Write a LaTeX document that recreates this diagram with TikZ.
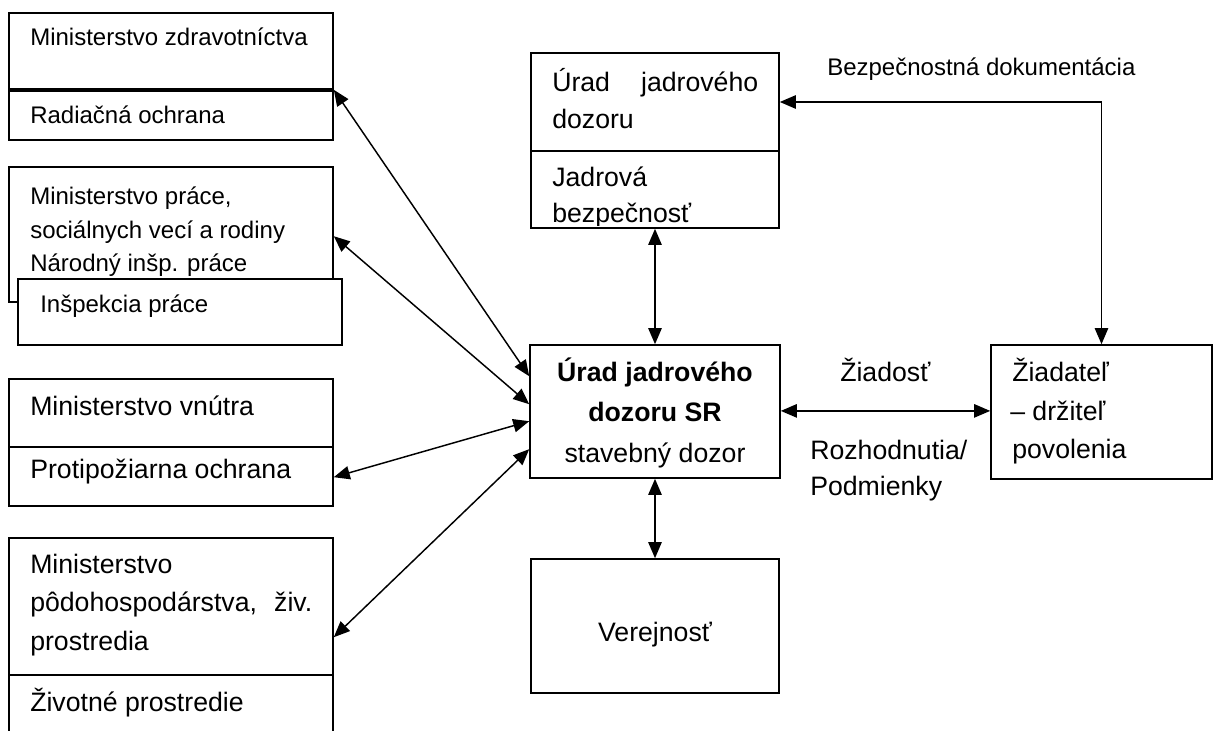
\documentclass[tikz,border=0pt]{standalone}
\usepackage{fontspec}
\setmainfont{Liberation Sans}
\usetikzlibrary{arrows.meta,calc}
\newcommand{\rbox}[5]{\node[box,minimum width={(#4-#2)*0.75pt},minimum height={(#5-#3)*0.75pt}] (#1) at ({(#2+#4)/2},{(#3+#5)/2}) {};}
\begin{document}
\begin{tikzpicture}[x=0.75pt,y=-0.75pt,
  box/.style={draw,line width=1.2pt,fill=white,inner sep=0pt},
  txt/.style={anchor=base west,inner sep=0pt,font=\fontsize{18}{22}\selectfont},
  btxt/.style={anchor=base west,inner sep=0pt,font=\fontsize{20}{24}\selectfont},
  ctxt/.style={anchor=base,inner sep=0pt,font=\fontsize{20}{24}\selectfont},
  bold/.style={font=\fontsize{20}{24}\selectfont\bfseries},
  tip/.tip={Triangle[length=12pt,width=10pt]},
  dbl/.style={line width=1.1pt,tip-tip}]
\clip (0,0) rectangle (1215,731);
\fill[white] (0,0) rectangle (1215,731);
% left column
\rbox{mz}{9}{13}{333}{89}
\rbox{ro}{9}{91}{333}{140}
\rbox{mp}{9}{167}{333}{302}
\rbox{ip}{18}{279}{342}{345}
\rbox{mv}{9}{379}{333}{447}
\rbox{po}{9}{447}{333}{506}
\rbox{ml}{9}{538}{333}{675}
\rbox{zp}{9}{675}{333}{745}
% middle and right
\rbox{uj}{531}{53}{779}{151}
\rbox{jb}{531}{151}{779}{228}
\rbox{cen}{530}{345}{780}{478}
\rbox{zd}{991}{345}{1212}{479}
\rbox{ver}{531}{559}{779}{693}
% texts
\node[txt] (t1) at (30,46) {Ministerstvo zdravotníctva};
\node[txt] (t2) at (30,124) {Radiačná ochrana};
\node[txt] (t3) at (30,205) {Ministerstvo práce,};
\node[txt] (t4) at (30,238.5) {sociálnych vecí a rodiny};
\node[txt] (t5) at (30,272) {Národný inšp. práce};
\node[txt] (t6) at (40,312) {Inšpekcia práce};
\node[btxt] (t7) at (30,415) {Ministerstvo vnútra};
\node[btxt] (t8) at (30,478) {Protipožiarna ochrana};
\node[btxt] (t9) at (30,573) {Ministerstvo};
\node[btxt] (t10) at (30,611.5) {\hbox to 211.5pt{pôdohospodárstva,\hfill živ.}};
\node[btxt] (t11) at (30,650) {prostredia};
\node[btxt] (t12) at (30,711.5) {Životné prostredie};
\node[btxt] (t13) at (552,91.7) {\hbox to 154.5pt{Úrad\hfill jadrového}};
\node[btxt] (t14) at (552,128.3) {dozoru};
\node[btxt] (t15) at (552,186.7) {Jadrová};
\begin{scope}
\clip (531,151) rectangle (779,225.5);
\node[btxt] (t16) at (552,222.5) {bezpečnosť};
\end{scope}
\node[ctxt,bold] (t17) at (655,381.7) {Úrad jadrového};
\node[ctxt,bold] (t18) at (655,421.7) {dozoru SR};
\node[ctxt] (t19) at (655,462) {stavebný dozor};
\node[btxt] (t20) at (1012,381.7) {Žiadateľ};
\node[btxt] (t21) at (1010,420) {– držiteľ};
\node[btxt] (t22) at (1012,458) {povolenia};
\node[ctxt] (t24) at (655,641) {Verejnosť};
\node[btxt] (t25) at (840,381.7) {Žiadosť};
\node[btxt] (t26) at (810,459) {Rozhodnutia/};
\node[btxt] (t27) at (810,495) {Podmienky};
\node[txt] (t28) at (827,76) {Bezpečnostná dokumentácia};
% connectors
\draw[dbl] (mz.south east) -- ($(cen.north west)+(0,32)$);
\draw[dbl] ($(mp.north east)+(0,70)$) -- ($(cen.north west)+(0,60)$);
\draw[dbl] ($(po.north east)+(0,31)$) -- ($(cen.north west)+(0,77)$);
\draw[dbl] ($(ml.north east)+(0,100)$) -- ($(cen.north west)+(0,105)$);
\draw[dbl] (jb.south -| cen.north) -- (cen.north);
\draw[dbl] (cen.south) -- (ver.north);
\draw[dbl] ($(cen.north east)+(0,66.7)$) -- ($(zd.north west)+(0,66.7)$);
\draw[dbl] (zd.north) |- (uj.east);
\end{tikzpicture}
\end{document}
